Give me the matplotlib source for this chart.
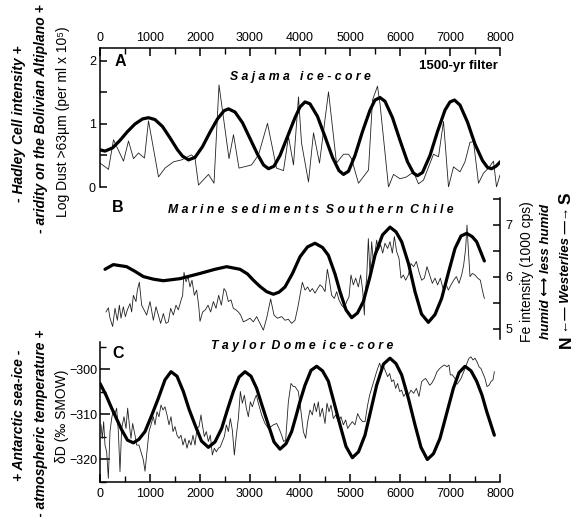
import matplotlib
matplotlib.use('Agg')
import matplotlib.pyplot as plt
from matplotlib.ticker import MultipleLocator

plt.rcParams['font.family'] = ['Liberation Sans', 'DejaVu Sans']

# ── Panel A: Sajama ice-core dust ─────────────────────────────────────────────
a_raw_yr = [0, 170, 270, 470, 570, 670, 770, 890, 970, 1170, 1300, 1470, 1630,
            1830, 1900, 1970, 2170, 2280, 2380, 2580, 2670, 2780, 3030, 3170,
            3350, 3530, 3670, 3770, 3870, 3970, 4030, 4170, 4270, 4390, 4570,
            4730, 4870, 4970, 5030, 5170, 5370, 5450, 5550, 5600, 5770, 5870,
            6000, 6130, 6270, 6370, 6470, 6670, 6770, 6870, 6970, 7070, 7200,
            7300, 7400, 7470, 7570, 7670, 7770, 7870, 7930, 8000]
a_raw = [0.38, 0.28, 0.75, 0.41, 0.73, 0.45, 0.54, 0.46, 1.05, 0.16, 0.30, 0.40,
         0.43, 0.51, 0.46, 0.03, 0.20, 0.06, 1.62, 0.45, 0.83, 0.30, 0.35, 0.51,
         1.01, 0.30, 0.26, 0.80, 0.35, 1.43, 0.70, 0.08, 0.86, 0.38, 1.51, 0.38,
         0.52, 0.52, 0.45, 0.06, 0.27, 1.38, 1.60, 1.32, 0.00, 0.20, 0.13, 0.16,
         0.24, 0.05, 0.11, 0.52, 0.48, 1.04, 0.00, 0.32, 0.24, 0.40, 0.71, 0.72,
         0.06, 0.22, 0.30, 0.41, 0.00, 0.19]

a_filt_yr = [0, 100, 250, 400, 550, 700, 850, 970, 1100, 1250, 1400, 1550, 1650,
             1770, 1900, 2050, 2200, 2350, 2480, 2570, 2700, 2850, 3000, 3150,
             3270, 3370, 3480, 3600, 3750, 3900, 4000, 4100, 4200, 4350, 4500,
             4650, 4780, 4870, 4970, 5100, 5250, 5400, 5500, 5600, 5700, 5850,
             6000, 6150, 6270, 6350, 6450, 6600, 6750, 6900, 7000, 7090, 7200,
             7350, 7500, 7650, 7750, 7830, 7920, 8020]
a_filt = [0.59, 0.57, 0.62, 0.74, 0.88, 1.00, 1.08, 1.10, 1.07, 0.96, 0.78, 0.59,
          0.49, 0.43, 0.47, 0.64, 0.87, 1.08, 1.21, 1.24, 1.19, 1.02, 0.77, 0.52,
          0.35, 0.29, 0.33, 0.50, 0.80, 1.10, 1.27, 1.35, 1.32, 1.12, 0.80, 0.47,
          0.26, 0.20, 0.25, 0.50, 0.88, 1.22, 1.38, 1.42, 1.36, 1.10, 0.74, 0.40,
          0.22, 0.18, 0.23, 0.50, 0.88, 1.22, 1.35, 1.38, 1.30, 1.03, 0.68, 0.42,
          0.31, 0.29, 0.33, 0.41]

# ── Panel B: Southern Chile marine sediments, Fe ──────────────────────────────
b_raw_yr = [120, 167, 200, 253, 300, 347, 387, 420, 467, 507, 547, 600, 633, 667,
            720, 747, 787, 833, 880, 933, 1000, 1067, 1120, 1167, 1213, 1267,
            1320, 1367, 1413, 1467, 1520, 1567, 1613, 1653, 1680, 1720, 1760,
            1800, 1840, 1887, 1933, 1973, 2000, 2053, 2107, 2160, 2213, 2267,
            2320, 2373, 2427, 2480, 2520, 2567, 2620, 2667, 2720, 2767, 2813,
            2867, 2933, 3000, 3067, 3133, 3200, 3267, 3333, 3413, 3480, 3547,
            3633, 3700, 3767, 3833,
            3900, 3953, 4000, 4047, 4100, 4153, 4200, 4247, 4300, 4353, 4400,
            4447, 4500, 4547, 4587, 4633, 4687, 4733, 4780, 4833, 4887, 4933,
            4980, 5020, 5067, 5113, 5167, 5213, 5253, 5287, 5300, 5333, 5367,
            5400, 5433, 5467, 5500, 5533, 5567, 5613, 5653, 5700, 5753, 5800,
            5847, 5887, 5933, 5980, 6020, 6067, 6113, 6167, 6220, 6273, 6327,
            6380, 6433, 6487, 6540, 6593, 6647, 6700, 6753, 6807, 6860, 6913,
            6967, 7020, 7073, 7127, 7180, 7233, 7273, 7313, 7340, 7367, 7400,
            7447, 7500, 7553, 7607, 7647, 7687]
b_raw = [5.32, 5.40, 5.20, 5.04, 5.39, 5.16, 5.45, 5.20, 5.42, 5.23, 5.36, 5.48,
         5.32, 5.64, 5.52, 5.74, 5.89, 5.45, 5.36, 5.26, 5.52, 5.16, 5.42, 5.26,
         5.10, 5.29, 5.10, 5.13, 5.39, 5.26, 5.45, 5.36, 5.52, 5.64, 6.08, 5.90,
         6.00, 5.80, 5.93, 5.64, 5.74, 5.45, 5.14, 5.32, 5.36, 5.45, 5.32, 5.52,
         5.39, 5.64, 5.45, 5.77, 5.71, 5.52, 5.55, 5.39, 5.36, 5.32, 5.26, 5.13,
         5.16, 5.20, 5.13, 5.23, 5.10, 4.97, 5.20, 5.57, 5.26, 5.20, 5.23, 5.16,
         5.18, 5.10,
         5.16, 5.39, 5.64, 5.89, 5.74, 5.80, 5.71, 5.77, 5.68, 5.77, 5.84, 5.80,
         5.71, 6.14, 5.93, 5.64, 5.58, 5.71, 5.55, 5.45, 5.39, 5.52, 5.61, 6.03,
         5.84, 5.97, 5.80, 6.03, 5.74, 5.26, 5.64, 5.97, 6.73, 6.03, 6.67, 6.29,
         6.45, 6.70, 6.51, 6.61, 6.45, 6.64, 6.54, 6.67, 6.45, 6.77, 6.48, 6.35,
         5.97, 6.03, 5.93, 6.03, 6.25, 6.19, 6.29, 6.09, 5.93, 5.97, 6.19, 6.03,
         5.87, 5.97, 5.84, 5.97, 5.77, 5.87, 5.74, 5.84, 5.93, 6.00, 5.87, 6.03,
         6.22, 6.54, 6.99, 6.51, 6.00, 6.06, 6.03, 5.97, 5.93, 5.74, 5.58]

b_filt_yr = [100, 267, 533, 700, 867, 1067, 1267, 1600, 2000, 2300, 2533, 2800,
             2950, 3067, 3200, 3333, 3467, 3580, 3700, 3850, 4000, 4150, 4300,
             4450, 4567, 4700, 4800, 4920, 5033, 5150, 5267, 5400, 5500, 5650,
             5800, 5920, 6033, 6170, 6300, 6430, 6567, 6700, 6833, 6970, 7100,
             7220, 7333, 7440, 7533, 7687]
b_filt = [6.14, 6.23, 6.19, 6.10, 6.00, 5.95, 5.92, 5.96, 6.06, 6.14, 6.19, 6.14,
          6.05, 5.93, 5.81, 5.71, 5.66, 5.70, 5.80, 6.06, 6.38, 6.57, 6.64, 6.56,
          6.41, 6.05, 5.71, 5.36, 5.21, 5.30, 5.52, 6.00, 6.41, 6.80, 6.95, 6.86,
          6.67, 6.25, 5.71, 5.28, 5.12, 5.27, 5.58, 6.08, 6.54, 6.78, 6.83, 6.77,
          6.67, 6.30]

# ── Panel C: Taylor Dome ice-core, deuterium ──────────────────────────────────
c_raw_yr = [20, 47, 73, 100, 133, 167, 200, 233, 267, 300, 333, 367, 400, 433,
            480, 520, 553, 587, 620, 653, 700, 733, 780, 820, 867, 900, 940, 980,
            1020, 1067, 1100, 1140, 1180, 1220, 1260, 1300, 1340, 1380, 1420,
            1460, 1500, 1540, 1580, 1620, 1660, 1700, 1740, 1780, 1820, 1860,
            1900, 1940, 1980, 2020, 2047, 2087, 2127, 2167, 2207, 2247, 2287,
            2327, 2367, 2407, 2447, 2487, 2527, 2567, 2607, 2647, 2687, 2727,
            2767, 2807, 2847, 2887, 2927, 2967, 3007, 3047, 3087, 3127, 3167,
            3233, 3300, 3367, 3420, 3467, 3533, 3580, 3633, 3673, 3713, 3767,
            3820, 3867,
            3900, 3967, 4020, 4067, 4113, 4153, 4200, 4247, 4287, 4327, 4367,
            4400, 4447, 4500, 4540, 4580, 4620, 4667, 4713, 4767, 4820, 4867,
            4913, 4953, 5000, 5047, 5100, 5153, 5200, 5253, 5300, 5353, 5393,
            5433, 5473, 5513, 5553, 5593, 5633, 5673, 5713, 5753, 5793, 5833,
            5873, 5913, 5953, 5993, 6033, 6073, 6113, 6167, 6220, 6273, 6327,
            6380, 6433, 6473, 6513, 6553, 6593, 6633, 6687, 6740, 6793, 6833,
            6887, 6940, 6980, 7007, 7047, 7100, 7140, 7180, 7220, 7260, 7300,
            7340, 7380, 7420, 7460, 7500, 7540, 7580, 7620, 7660, 7700, 7740,
            7780, 7820, 7860, 7887]
c_raw = [-312.4, -315.4, -311.7, -316.9, -318.4, -324.3, -313.9, -311.0, -309.1,
         -309.9, -308.7, -313.9, -322.8, -313.2, -310.6, -313.2, -308.7, -312.4,
         -315.4, -312.1, -314.7, -316.9, -316.9, -318.4, -320.2, -322.7, -318.4,
         -313.9, -312.4, -310.6, -312.4, -309.5, -310.6, -308.0, -309.1, -308.4,
         -310.2, -312.4, -310.6, -313.9, -312.8, -314.7, -315.4, -314.7, -316.9,
         -315.4, -317.6, -315.8, -316.9, -314.7, -316.9, -313.2, -312.8, -310.2,
         -312.4, -315.0, -313.9, -316.1, -314.7, -319.1, -317.6, -318.4, -317.6,
         -317.3, -316.1, -315.0, -312.4, -313.9, -311.0, -313.6, -319.1, -314.7,
         -311.0, -305.0, -307.6, -305.8, -308.7, -310.6, -307.3, -308.4, -306.9,
         -305.8, -307.6, -310.2, -312.1, -313.2, -312.8, -312.4, -312.1, -313.2,
         -314.7, -316.1, -315.8, -307.3, -303.2, -303.9,
         -303.9, -305.0, -309.5, -313.9, -315.4, -311.7, -309.1, -310.2, -307.6,
         -309.5, -307.3, -310.6, -308.7, -312.1, -307.6, -309.5, -308.0, -311.0,
         -310.2, -311.7, -310.6, -312.4, -311.3, -313.2, -312.4, -311.7, -312.4,
         -309.9, -311.0, -311.7, -311.7, -308.0, -305.8, -304.3, -302.8, -301.3,
         -299.9, -298.7, -300.2, -299.5, -300.6, -301.7, -301.0, -302.8, -302.4,
         -304.3, -303.2, -305.0, -304.7, -306.1, -305.4, -305.8, -304.7, -305.4,
         -304.3, -306.1, -302.8, -302.4, -302.1, -302.8, -303.6, -303.2, -302.1,
         -300.6, -299.9, -299.5, -299.1, -299.5, -299.1, -301.3, -301.3, -302.1,
         -303.4, -302.8, -302.1, -301.0, -299.9, -298.7, -297.6, -297.3, -298.0,
         -297.6, -298.4, -299.5, -299.9, -301.0, -302.1, -303.9, -303.6, -302.8,
         -302.4, -300.6]

c_filt_yr = [0, 120, 233, 433, 550, 667, 780, 900, 1030, 1167, 1300, 1420, 1540,
             1667, 1780, 1900, 2030, 2167, 2300, 2433, 2550, 2667, 2780, 2900,
             3020, 3133, 3250, 3367, 3480, 3600, 3720, 3833, 3920, 4000, 4100,
             4220, 4333, 4450, 4567, 4680, 4800, 4920, 5047, 5170, 5300, 5420,
             5533, 5670, 5800, 5920, 6033, 6170, 6300, 6420, 6547, 6670, 6800,
             6930, 7067, 7180, 7300, 7420, 7533, 7640, 7733, 7887]
c_filt = [-303.2, -305.8, -308.7, -313.5, -315.8, -316.4, -315.6, -313.9, -310.4,
          -306.5, -302.4, -300.6, -301.6, -305.0, -308.9, -312.4, -316.0, -317.4,
          -316.2, -313.2, -309.0, -305.0, -301.8, -300.6, -301.6, -304.3, -308.4,
          -312.4, -316.2, -317.8, -316.6, -313.9, -310.5, -307.2, -303.6, -300.3,
          -299.4, -300.4, -302.7, -307.4, -312.4, -317.2, -319.7, -318.4, -314.7,
          -309.0, -303.6, -298.9, -297.6, -298.8, -301.3, -306.6, -312.4, -317.4,
          -320.1, -318.8, -315.4, -310.0, -304.3, -300.8, -299.4, -300.4, -302.7,
          -305.8, -309.4, -314.7]

year_ticks = [0, 1000, 2000, 3000, 4000, 5000, 6000, 7000, 8000]

W, H = 581, 517
THIN = dict(color='#222222', linewidth=0.6, zorder=2)
THICK = dict(color='black', linewidth=2.3, zorder=3, solid_capstyle='round')


def box(left, top, right, bottom):
    # pixel box -> figure fraction rect
    return [left / W, 1 - bottom / H, (right - left) / W, (bottom - top) / H]


def ftext(px, py, s, **kw):
    fig.text(px / W, 1 - py / H, s, **kw)


fig = plt.figure(figsize=(W / 100, H / 100), dpi=100)

# ── A ──
axA = fig.add_axes(box(100, 48, 500, 187))
axA.patch.set_alpha(0)
axA.plot(a_raw_yr, a_raw, **THIN)
axA.plot(a_filt_yr, a_filt, **THICK)
axA.set_xlim(0, 8000)
axA.set_ylim(0, 2.206)
for s in ['right', 'bottom']:
    axA.spines[s].set_visible(False)
axA.xaxis.tick_top()
axA.set_xticks(year_ticks)
axA.xaxis.set_minor_locator(MultipleLocator(500))
axA.set_yticks([0, 1, 2])
axA.yaxis.set_minor_locator(MultipleLocator(0.5))
axA.tick_params(axis='x', which='major', direction='in', length=6, width=1.1,
                labelsize=9, pad=3)
axA.tick_params(axis='x', which='minor', direction='in', length=4, width=1.0)
axA.tick_params(axis='y', which='both', direction='in', length=5, width=1.1,
                labelsize=9, pad=3)

# ── B ──
axB = fig.add_axes(box(100, 198, 500, 339))
axB.patch.set_alpha(0)
axB.plot(b_raw_yr, b_raw, **THIN)
axB.plot(b_filt_yr, b_filt, **THICK)
axB.set_xlim(0, 8000)
axB.set_ylim(4.80, 7.51)
for s in ['left', 'top', 'bottom']:
    axB.spines[s].set_visible(False)
axB.set_xticks([])
axB.yaxis.tick_right()
axB.set_yticks([5, 6, 7])
axB.yaxis.set_minor_locator(MultipleLocator(0.5))
axB.tick_params(axis='y', which='both', direction='in', length=5, width=1.1,
                labelsize=9, pad=4)

# ── C ──
axC = fig.add_axes(box(100, 342, 500, 482))
axC.patch.set_alpha(0)
axC.plot(c_raw_yr, c_raw, **THIN)
axC.plot(c_filt_yr, c_filt, **THICK)
axC.set_xlim(0, 8000)
axC.set_ylim(-325.1, -294.0)
for s in ['right', 'top']:
    axC.spines[s].set_visible(False)
axC.set_xticks(year_ticks)
axC.xaxis.set_minor_locator(MultipleLocator(500))
axC.set_yticks([-320, -310, -300])
axC.yaxis.set_minor_locator(MultipleLocator(5))
axC.tick_params(axis='x', which='major', direction='in', length=6, width=1.1,
                labelsize=9, pad=4)
axC.tick_params(axis='x', which='minor', direction='in', length=4, width=1.0)
axC.tick_params(axis='y', which='major', direction='in', length=7, width=1.1,
                labelsize=9, pad=2)
axC.tick_params(axis='y', which='minor', direction='in', length=4, width=1.0)

for ax in (axA, axB, axC):
    for sp in ax.spines.values():
        sp.set_linewidth(1.1)

# ── Panel texts ──
title_kw = dict(fontsize=8.8, fontweight='bold', style='italic', ha='center', va='center')
ftext(120, 61, 'A', fontsize=11.5, fontweight='bold', ha='center', va='center')
ftext(300, 77, 'S a j a m a   i c e - c o r e', **title_kw)
ftext(498, 66, '1500-yr filter', fontsize=9.5, fontweight='bold', ha='right', va='center')
ftext(118, 208, 'B', fontsize=11.5, fontweight='bold', ha='center', va='center')
ftext(311, 210, 'M a r i n e  s e d i m e n t s  S o u t h e r n  C h i l e', **title_kw)
ftext(118, 353, 'C', fontsize=11.5, fontweight='bold', ha='center', va='center')
ftext(302, 346, 'T a y l o r  D o m e  i c e - c o r e', **title_kw)

# ── Left side labels ──
side_kw = dict(rotation=90, ha='center', va='center')
ftext(63, 122, 'Log Dust >63µm (per ml x 10⁵)', fontsize=10, **side_kw)
ftext(41, 119, '- aridity on the Bolivian Altiplano +', fontsize=10,
      fontweight='bold', style='italic', **side_kw)
ftext(19, 124, '- Hadley Cell intensity +', fontsize=10,
      fontweight='bold', style='italic', **side_kw)
ftext(62, 416, 'δD (‰ SMOW)', fontsize=10, **side_kw)
ftext(41, 423, '- atmospheric temperature +', fontsize=10,
      fontweight='bold', style='italic', **side_kw)
ftext(19, 415, '+ Antarctic sea-ice -', fontsize=10,
      fontweight='bold', style='italic', **side_kw)

# ── Right side labels ──
ftext(527, 272, 'Fe intensity (1000 cps)', fontsize=10, **side_kw)
ftext(546, 271, 'humid ⟷ less humid', fontsize=9.5,
      fontweight='bold', style='italic', **side_kw)
ftext(566, 342, 'N', fontsize=12.5, fontweight='bold', **side_kw)
ftext(566, 198, 'S', fontsize=12.5, fontweight='bold', **side_kw)
ftext(566, 270, '←— Westerlies —→', fontsize=9.5,
      fontweight='bold', style='italic', **side_kw)

fig.savefig('out.png', dpi=100)
